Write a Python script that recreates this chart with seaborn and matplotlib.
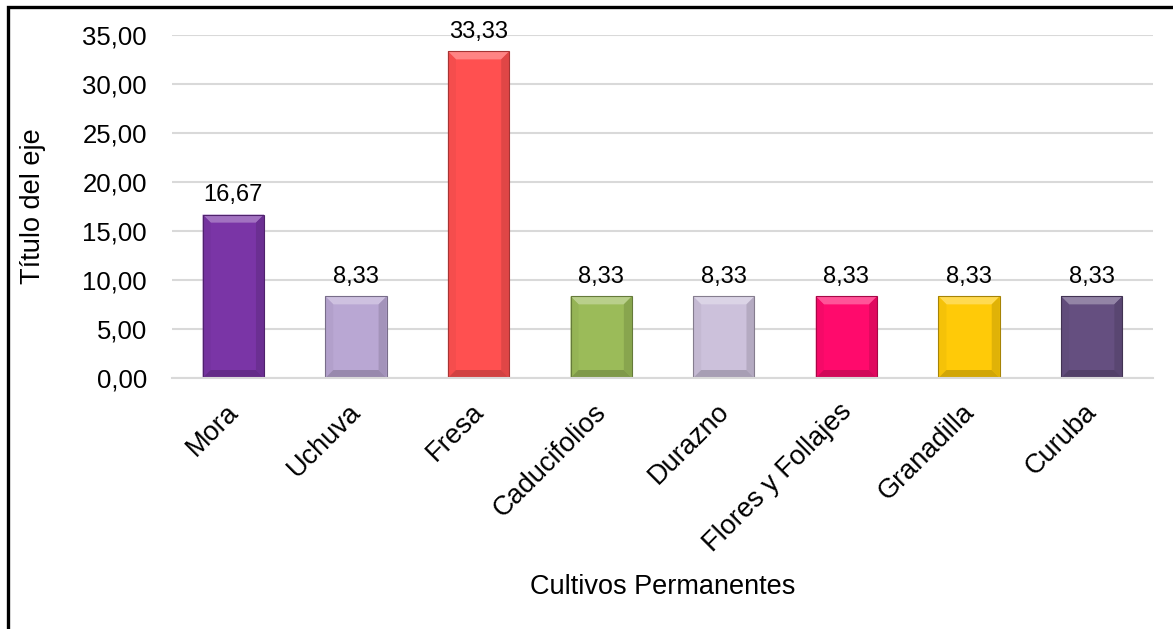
import matplotlib
matplotlib.use("Agg")
import matplotlib.pyplot as plt
import matplotlib.patches as mpatches
import matplotlib.transforms as mtrans
from matplotlib.colors import to_rgb
import numpy as np
import pandas as pd
import seaborn as sns

# data
cultivos = ["Mora", "Uchuva", "Fresa", "Caducifolios", "Durazno",
            "Flores y Follajes", "Granadilla", "Curuba"]
porcentaje = [16.67, 8.33, 33.33, 8.33, 8.33, 8.33, 8.33, 8.33]
colores = ["#7A35A6", "#B9A7D3", "#FF5050", "#9BBB59", "#CCC1DB",
           "#FF0A6C", "#FFCA08", "#654F80"]
y_ticks = [0, 5, 10, 15, 20, 25, 30, 35]

sns.set_theme(style="white")
plt.rcParams["font.family"] = ["Liberation Sans", "DejaVu Sans"]
plt.rcParams["text.color"] = "black"
plt.rcParams["axes.labelcolor"] = "black"
plt.rcParams["xtick.color"] = "black"
plt.rcParams["ytick.color"] = "black"

df = pd.DataFrame({"Cultivo": cultivos, "Valor": porcentaje})


def coma(v, dec=2):
    return f"{v:.{dec}f}".replace(".", ",")


def mezcla(c, otro, t):
    c = np.array(to_rgb(c))
    o = np.array(to_rgb(otro))
    return tuple(c * (1 - t) + o * t)


fig = plt.figure(figsize=(11.73, 6.29), dpi=100)
ax = fig.add_axes([172 / 1173, 1 - 378 / 629, 981 / 1173, 343 / 629])

sns.barplot(data=df, x="Cultivo", y="Valor", hue="Cultivo", palette=colores,
            width=0.5, legend=False, ax=ax, saturation=1,
            edgecolor="none", linewidth=0)
barras = sorted([p for p in ax.patches if isinstance(p, mpatches.Rectangle)],
                key=lambda r: r.get_x())

ax.set_ylim(0, 35)
ax.set_xlim(-0.5, len(cultivos) - 0.5)
ax.set_yticks(y_ticks)
ax.set_yticklabels([coma(v) for v in y_ticks], fontsize=18.5)
ax.yaxis.grid(True, color="#D9D9D9", linewidth=1.5)
ax.set_axisbelow(True)
for s in ["top", "right", "left"]:
    ax.spines[s].set_visible(False)
ax.spines["bottom"].set_color("#D9D9D9")
ax.spines["bottom"].set_linewidth(1.5)
ax.tick_params(axis="y", length=0, pad=18, colors="black")
ax.tick_params(axis="x", length=0, pad=15, colors="black")

for lab in ax.get_xticklabels():
    lab.set_rotation(45)
    lab.set_ha("right")
    lab.set_va("top")
    lab.set_rotation_mode("anchor")
    lab.set_fontsize(19.5)
    lab.set_transform(lab.get_transform() +
                      mtrans.ScaledTranslation(-8 / 100, 0, fig.dpi_scale_trans))

# bevel effect similar to the spreadsheet style
fig.canvas.draw()
px_x = ax.bbox.width / (ax.get_xlim()[1] - ax.get_xlim()[0])
px_y = ax.bbox.height / (ax.get_ylim()[1] - ax.get_ylim()[0])
bx = 8 / px_x
by = 8 / px_y
for p in barras:
    c = p.get_facecolor()[:3]
    x0, w, h = p.get_x(), p.get_width(), p.get_height()
    x1, y1 = x0 + w, h
    caras = [
        ([(x0, y1), (x1, y1), (x1 - bx, y1 - by), (x0 + bx, y1 - by)], mezcla(c, "white", 0.3)),
        ([(x0, 0), (x0, y1), (x0 + bx, y1 - by), (x0 + bx, by)], mezcla(c, "black", 0.04)),
        ([(x1, 0), (x1, y1), (x1 - bx, y1 - by), (x1 - bx, by)], mezcla(c, "black", 0.12)),
        ([(x0, 0), (x1, 0), (x1 - bx, by), (x0 + bx, by)], mezcla(c, "black", 0.18)),
    ]
    for pts, col in caras:
        ax.add_patch(mpatches.Polygon(pts, closed=True, facecolor=col,
                                      edgecolor="none", zorder=p.get_zorder() + 0.1))
    ax.add_patch(mpatches.Rectangle((x0, 0), w, h, fill=False,
                                    edgecolor=mezcla(c, "black", 0.35), linewidth=0.8,
                                    zorder=p.get_zorder() + 0.2))
    ax.annotate(coma(h), (x0 + w / 2, h), xytext=(0, 6), textcoords="offset points",
                ha="center", va="bottom", fontsize=17, color="black")

ax.set_xlabel("Cultivos Permanentes", fontsize=19.5, va="top", color="black")
ax.xaxis.set_label_coords(0.5, -0.57)
ax.set_ylabel("Título del eje", fontsize=19.5, color="black")
ax.yaxis.set_label_coords(-0.128, 0.5)

# black frame around the chart area
fig.patches.append(mpatches.Rectangle((8 / 1173, -0.1), 1.2, 1 - 7 / 629 + 0.1,
                                      transform=fig.transFigure, fill=False,
                                      edgecolor="black", linewidth=2.4))

fig.savefig("out.png", dpi=100)
